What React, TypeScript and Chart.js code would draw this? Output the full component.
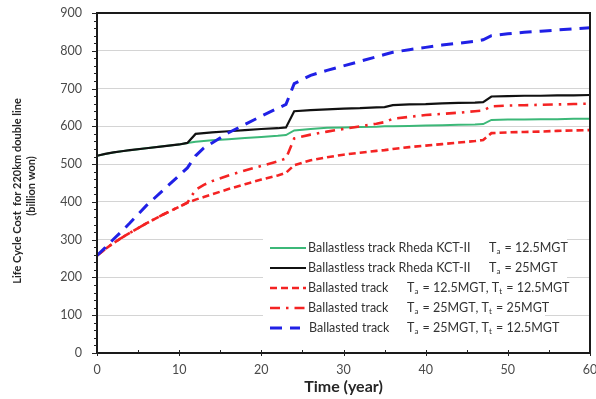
import React, { useEffect, useRef } from 'react';
import { Chart, registerables } from 'chart.js';

Chart.register(...registerables);

// ---- data ----
const years = [0, 1, 2, 3, 4, 6, 8, 10, 11, 12, 13, 14, 16, 18, 20, 22, 23, 24, 26, 28, 30, 32, 34, 35, 36, 38, 40, 42, 44, 46, 47, 48, 50, 52, 54, 56, 58, 60];

const ballastless125 = [522, 527, 531, 534, 537, 542, 547, 552, 556, 559, 561, 563, 566, 569, 572, 575, 577, 589, 593, 596, 597, 598, 599, 600, 600, 601, 602, 603, 604, 605, 606, 617, 618, 618, 619, 619, 620, 620];
const ballastless25 = [522, 527, 531, 534, 537, 542, 547, 552, 556, 580, 582, 584, 587, 590, 593, 595, 597, 640, 643, 645, 647, 648, 650, 651, 656, 658, 659, 661, 662, 663, 664, 679, 680, 681, 681, 682, 682, 683];
const ballasted125_125 = [258, 275, 291, 305, 318, 343, 366, 387, 398, 406, 413, 420, 434, 447, 459, 470, 477, 497, 510, 518, 525, 530, 535, 537, 540, 545, 549, 553, 557, 561, 564, 582, 584, 585, 586, 588, 589, 590];
const ballasted25_25 = [258, 275, 291, 305, 318, 343, 366, 387, 398, 432, 445, 455, 470, 483, 495, 507, 515, 568, 578, 586, 593, 600, 607, 611, 620, 625, 630, 633, 636, 640, 642, 653, 655, 656, 657, 658, 659, 660];
const ballasted25_125 = [258, 279, 301, 322, 344, 390, 430, 470, 490, 522, 543, 556, 583, 605, 627, 648, 658, 713, 735, 748, 760, 772, 784, 790, 796, 803, 809, 815, 820, 825, 829, 840, 845, 849, 852, 855, 858, 861];

const xTickValues = [0, 10, 20, 30, 40, 50, 60];
const yTickValues = [0, 100, 200, 300, 400, 500, 600, 700, 800, 900];

const xTitle = 'Time (year)';
const yTitleLines = ['Life Cycle Cost  for 220km double line', '(billion won)'];

const legendNames = [
  'Ballastless track Rheda KCT-II',
  'Ballastless track Rheda KCT-II',
  'Ballasted track',
  'Ballasted track',
  'Ballasted track',
];
// parameters: [subscript-letter, value] pairs
const legendParams: [string, string][][] = [
  [['a', '12.5MGT']],
  [['a', '25MGT']],
  [['a', '12.5MGT'], ['t', '12.5MGT']],
  [['a', '25MGT'], ['t', '25MGT']],
  [['a', '25MGT'], ['t', '12.5MGT']],
];

const seriesValues = [ballastless125, ballastless25, ballasted125_125, ballasted25_25, ballasted25_125];
const seriesColors = ['#3cb878', '#111111', '#f42323', '#f42323', '#2020e6'];
const seriesWidths = [2, 2.2, 2.6, 2.6, 3];
const seriesDashes: number[][] = [[], [], [7, 4], [10, 6, 2.5, 6], [12, 8]];
const seriesOrder = [3, 1, 4, 2, 0];

const FONT = 'Lato, "Open Sans", sans-serif';

function drawParam(ctx: CanvasRenderingContext2D, params: [string, string][], x: number, y: number) {
  let cx = x;
  params.forEach((p, i) => {
    if (i > 0) {
      ctx.font = `12.5px ${FONT}`;
      ctx.fillText(', ', cx, y);
      cx += ctx.measureText(', ').width;
    }
    ctx.font = `12.5px ${FONT}`;
    ctx.fillText('T', cx, y);
    cx += ctx.measureText('T').width;
    ctx.font = `8px ${FONT}`;
    ctx.fillText(p[0], cx, y + 3);
    cx += ctx.measureText(p[0]).width + 1;
    ctx.font = `12.5px ${FONT}`;
    const s = ' = ' + p[1];
    ctx.fillText(s, cx, y);
    cx += ctx.measureText(s).width;
  });
}

const decorPlugin = {
  id: 'decor',
  afterDraw(chart: any) {
    const { ctx, chartArea: ca, scales } = chart;
    const xs = scales.x;
    const ys = scales.y;
    ctx.save();

    // frame
    ctx.strokeStyle = '#1a1a1a';
    ctx.lineWidth = 2;
    ctx.strokeRect(ca.left, ca.top, ca.right - ca.left, ca.bottom - ca.top);

    // y ticks (minor every 20)
    ctx.lineWidth = 1;
    ctx.strokeStyle = '#222';
    for (let v = 0; v <= 900; v += 20) {
      const py = Math.round(ys.getPixelForValue(v)) + 0.5;
      const len = v % 100 === 0 ? 5 : 3;
      ctx.beginPath();
      ctx.moveTo(ca.left - len, py);
      ctx.lineTo(ca.left, py);
      ctx.stroke();
    }
    // x ticks every 5
    for (let v = 0; v <= 60; v += 5) {
      const px = Math.round(xs.getPixelForValue(v)) + 0.5;
      ctx.beginPath();
      ctx.moveTo(px, ca.bottom - 3);
      ctx.lineTo(px, ca.bottom + (v % 10 === 0 ? 3 : 0));
      ctx.stroke();
    }

    // legend background
    const bl = ca.left + 166;
    ctx.fillStyle = '#ffffff';
    ctx.fillRect(bl, ca.bottom - 121, 304, 67);
    ctx.fillRect(bl, ca.bottom - 54, 282, 40);

    // legend rows
    const rowY = [ca.bottom - 105, ca.bottom - 85, ca.bottom - 65, ca.bottom - 45, ca.bottom - 25];
    const sampleL = ca.left + 173;
    const sampleR = ca.left + 209;
    const textX = ca.left + 211;
    ctx.textBaseline = 'middle';
    legendNames.forEach((name, i) => {
      const ry = rowY[i];
      ctx.strokeStyle = seriesColors[i];
      ctx.lineWidth = seriesWidths[i];
      ctx.setLineDash(seriesDashes[i]);
      ctx.beginPath();
      ctx.moveTo(sampleL, ry);
      ctx.lineTo(i === 4 ? sampleR - 6 : sampleR, ry);
      ctx.stroke();
      ctx.setLineDash([]);
      ctx.fillStyle = '#333333';
      ctx.textAlign = 'left';
      ctx.font = `12.5px ${FONT}`;
      ctx.fillText(name, i === 4 ? textX + 1 : textX, ry);
      const px = i < 2 ? ca.left + 392 : ca.left + 310;
      drawParam(ctx, legendParams[i], px, ry);
    });

    // axis titles
    ctx.fillStyle = '#262626';
    ctx.textAlign = 'center';
    ctx.textBaseline = 'middle';
    ctx.font = `bold 16px ${FONT}`;
    ctx.fillText(xTitle, (ca.left + ca.right) / 2, 387);

    ctx.font = `bold 11px ${FONT}`;
    ctx.translate(17, 191);
    ctx.rotate(-Math.PI / 2);
    ctx.fillText(yTitleLines[0], 0, 0);
    ctx.fillText(yTitleLines[1], 5, 14);
    ctx.restore();
  },
};

export default function App() {
  const ref = useRef<HTMLCanvasElement | null>(null);
  useEffect(() => {
    if (!ref.current) return;
    const datasets = seriesValues.map((vals, i) => ({
      label: legendNames[i],
      data: years.map((x, j) => ({ x, y: vals[j] })),
      borderColor: seriesColors[i],
      borderWidth: seriesWidths[i],
      borderDash: seriesDashes[i],
      order: seriesOrder[i],
      pointRadius: 0,
      fill: false,
      tension: 0,
    }));
    const chart = new Chart(ref.current, {
      type: 'line',
      data: { datasets },
      options: {
        animation: false,
        responsive: false,
        maintainAspectRatio: false,
        layout: { padding: { left: 0, right: 6, top: 13, bottom: 0 } },
        plugins: { legend: { display: false }, tooltip: { enabled: false } },
        scales: {
          x: {
            type: 'linear',
            min: 0,
            max: 60,
            afterBuildTicks: (s: any) => {
              s.ticks = xTickValues.map((v) => ({ value: v }));
            },
            afterFit: (s: any) => {
              s.height = 46;
              s.paddingLeft = 0;
              s.paddingRight = 0;
            },
            grid: { display: false, drawTicks: false },
            border: { display: true, color: '#111', width: 2 },
            ticks: { padding: 9, color: '#4a4a4a', font: { family: FONT, size: 12.5 } },
          },
          y: {
            type: 'linear',
            min: 0,
            max: 900,
            afterBuildTicks: (s: any) => {
              s.ticks = yTickValues.map((v) => ({ value: v }));
            },
            afterFit: (s: any) => {
              s.width = 97;
              s.paddingTop = 0;
              s.paddingBottom = 0;
            },
            grid: { color: '#d4d4d4', lineWidth: 1, drawTicks: false },
            border: { display: true, color: '#111', width: 2 },
            ticks: { padding: 15, color: '#4a4a4a', font: { family: FONT, size: 12.5 } },
          },
        },
      },
      plugins: [decorPlugin],
    });
    return () => chart.destroy();
  }, []);
  return (
    <div style={{ position: 'fixed', left: 0, top: 0, width: 596, height: 399, background: '#fff' }}>
      <canvas ref={ref} width={596} height={399} style={{ width: 596, height: 399 }} />
    </div>
  );
}
